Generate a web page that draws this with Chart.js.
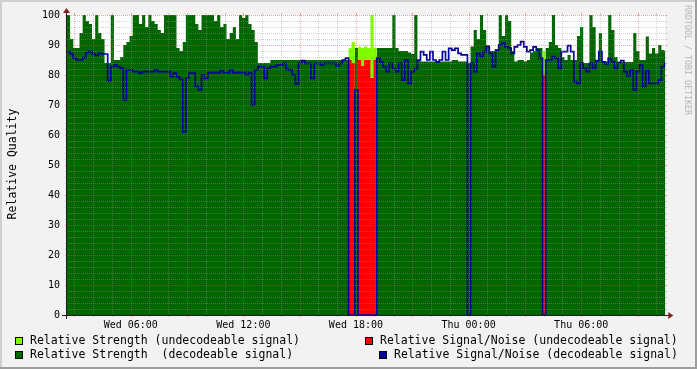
<!DOCTYPE html>
<html><head><meta charset="utf-8">
<script src="https://cdn.jsdelivr.net/npm/chart.js@4.4.0/dist/chart.umd.min.js"></script>
<style>
html,body{margin:0;padding:0;background:#f2f2f2;}
#wrap{position:relative;width:697px;height:369px;overflow:hidden;}
canvas{position:absolute;left:0;top:0;}
.t{position:absolute;font-family:"DejaVu Sans Mono",monospace;white-space:pre;color:#000;}
.lg{font-size:11.5px;line-height:14px;}
.box{position:absolute;width:6px;height:6px;border:1px solid #000;}
</style></head>
<body>
<div id="wrap">
<canvas id="c" width="697" height="369"></canvas>
<div class="t" style="font-size:11.5px;left:12px;top:164px;transform:translate(-50%,-50%) rotate(-90deg);">Relative Quality</div>
<div class="t" style="font-size:8.3px;color:#b4b4b4;left:688px;top:60px;transform:translate(-50%,-50%) rotate(90deg);">RRDTOOL / TOBI OETIKER</div>
<div class="box" style="left:15px;top:337px;background:#80ff00;"></div>
<div class="t lg" style="left:30px;top:333.3px;">Relative Strength (undecodeable signal)</div>
<div class="box" style="left:15px;top:351px;background:#006600;"></div>
<div class="t lg" style="left:30px;top:346.7px;">Relative Strength  (decodeable signal)</div>
<div class="box" style="left:365px;top:337px;background:#ff0000;"></div>
<div class="t lg" style="left:380px;top:333.3px;">Relative Signal/Noise (undecodeable signal)</div>
<div class="box" style="left:379px;top:351px;background:#000099;"></div>
<div class="t lg" style="left:394px;top:346.7px;">Relative Signal/Noise (decodeable signal)</div>
</div>
<script>
// time axis: hours since Wed 00:00, one sample every 10 minutes
const startHour = 2.605;
const stepHours = 1 / 6;
const endHour = 34.48;
const tickHours = [6, 12, 18, 24, 30];
const tickLabels = ['Wed 06:00', 'Wed 12:00', 'Wed 18:00', 'Thu 00:00', 'Thu 06:00'];
const yTicks = [0, 10, 20, 30, 40, 50, 60, 70, 80, 90, 100];

const strengthDecodeable = [
 100,92,89,89,94,100,98,97,92,100, 94,92,84,84,100,85,85,86,90,91,
 93,100,100,97,100,96,100,98,97,95, 94,100,100,100,100,89,88,91,100,100,
 100,97,95,100,100,100,100,98,100,96, 97,92,94,96,92,100,99,100,97,95,
 91,84,84,84,84,85,85,85,85,85, 85,85,85,85,85,85,85,85,85,85,
 85,85,85,85,85,85,85,85,85,85, 0,0,89,0,0,0,0,0,0,89,
 89,89,89,89,100,89,88,88,88,87.5, 87,100,85,84.5,84.5,84.5,84.5,84.5,84.5,84.5,
 84.5,84.5,84.5,85,85,84.5,84.5,84.5,84,89.5, 95,92,100,95,90,88,88,88.5,100,93,
 100,98,88,84.5,85,85,84.5,85,87.5,88, 89,89,0,89,91,100,90,89,86,85,
 86.7,85,85,93,96,84,84,100,96,85, 94,84.5,84.5,100,95,86,84.5,84.3,84.3,84.3,
 84.3,94,88,85,85,92.8,87.2,89,87.2,90, 88.3,87.8
];
const snrDecodeable = [
 87.8,87,85.6,85,85,85.8,87.5,87.8,87,86.5, 87.2,87,87,78,82.8,83.3,82.8,82.2,71.7,81.7,
 81.7,81.1,81.1,80.6,81.1,81.1,81.1,81.1,81.7,81.1, 81.1,81.1,81.1,79.5,80.6,79.4,78.5,61,79,80.6,
 80.6,76.2,75,80,78.9,80.8,80.8,80.8,80.8,81.5, 80.8,80.8,81.7,80.8,80.8,80.8,80.8,80,80.8,70,
 81.7,82.8,82.8,78.9,82.2,82.8,82.8,83.3,83.3,83.9, 81.9,81.7,80,77,83.9,84.8,83.9,83.9,78.9,83.9,
 83.9,83.3,83.9,83.9,83.9,83.9,83,83.9,85,85.6, 0,0,75,0,0,0,0,0,0,85.6,
 84.4,82.8,81.1,83.9,82.2,81.1,83.9,78.3,85,77.2, 81.1,82,85,87.8,86.7,85,87.8,85,84.4,85,
 87.8,85,88.9,88.3,88.9,87.2,86.7,86.7,0,83.9, 81.1,87.2,86.1,87.8,89.4,87.2,82.8,88.3,90,90.6,
 89.4,89,87.2,89.4,90,91.1,89.4,87.8,88.3,89.4, 88.3,85.6,0,85,85,86.1,85.6,82.2,87.8,87.8,
 89.8,87.8,77.8,77.2,84,82.2,81.1,83.9,82.2,84.8, 87.8,84.4,83.7,85.6,84.4,82.2,84,84.8,81.1,79.7,
 81.7,75,81.1,83.3,76.1,81.5,77.2,77.2,77.2,78.3, 82.8,83.9
];
const strengthUndecodeable = [
 0,0,0,0,0,0,0,0,0,0, 0,0,0,0,0,0,0,0,0,0,
 0,0,0,0,0,0,0,0,0,0, 0,0,0,0,0,0,0,0,0,0,
 0,0,0,0,0,0,0,0,0,0, 0,0,0,0,0,0,0,0,0,0,
 0,0,0,0,0,0,0,0,0,0, 0,0,0,0,0,0,0,0,0,0,
 0,0,0,0,0,0,0,0,0,0, 89,91,0,89.4,89,89.5,89,100,89,0,
 0,0,0,0,0,0,0,0,0,0, 0,0,0,0,0,0,0,0,0,0,
 0,0,0,0,0,0,0,0,0,0, 0,0,0,0,0,0,0,0,0,0,
 0,0,0,0,0,0,0,0,0,0, 0,0,88,0,0,0,0,0,0,0,
 0,0,0,0,0,0,0,0,0,0, 0,0,0,0,0,0,0,0,0,0,
 0,0,0,0,0,0,0,0,0,0, 0,0
];
const snrUndecodeable = [
 0,0,0,0,0,0,0,0,0,0, 0,0,0,0,0,0,0,0,0,0,
 0,0,0,0,0,0,0,0,0,0, 0,0,0,0,0,0,0,0,0,0,
 0,0,0,0,0,0,0,0,0,0, 0,0,0,0,0,0,0,0,0,0,
 0,0,0,0,0,0,0,0,0,0, 0,0,0,0,0,0,0,0,0,0,
 0,0,0,0,0,0,0,0,0,0, 85,84,0,85,83,85,85,79,85,0,
 0,0,0,0,0,0,0,0,0,0, 0,0,0,0,0,0,0,0,0,0,
 0,0,0,0,0,0,0,0,0,0, 0,0,0,0,0,0,0,0,0,0,
 0,0,0,0,0,0,0,0,0,0, 0,0,80,0,0,0,0,0,0,0,
 0,0,0,0,0,0,0,0,0,0, 0,0,0,0,0,0,0,0,0,0,
 0,0,0,0,0,0,0,0,0,0, 0,0
];

const toPoints = arr => arr.map((v, i) => ({x: startHour + i * stepHours, y: v}))
  .concat([{x: startHour + arr.length * stepHours, y: arr[arr.length - 1]}]);

const GRID = 'rgba(150,150,150,0.42)';
const MGRID = 'rgba(222,79,79,0.5)';

const rrdPlugin = {
  id: 'rrd',
  beforeDraw(chart) {
    const {ctx, chartArea: a, width: W, height: H} = chart;
    ctx.save();
    ctx.fillStyle = '#f2f2f2'; ctx.fillRect(0, 0, W, H);
    ctx.fillStyle = '#cfcfcf'; ctx.fillRect(0, 0, W, 2); ctx.fillRect(0, 0, 2, H);
    ctx.fillStyle = '#9e9e9e'; ctx.fillRect(0, H - 2, W, 2); ctx.fillRect(W - 2, 0, 2, H);
    ctx.fillStyle = '#ffffff'; ctx.fillRect(a.left, a.top, a.right - a.left, a.bottom - a.top);
    ctx.restore();
  },
  afterDatasetsDraw(chart) {
    const {ctx, chartArea: a} = chart;
    const xs = chart.scales.x, ys = chart.scales.y;
    ctx.save();
    ctx.lineWidth = 1;
    // vertical grid every hour, major every 3 hours
    for (let h = Math.ceil(xs.min); h <= xs.max; h++) {
      const px = Math.round(xs.getPixelForValue(h)) + 0.5;
      const col = h % 3 === 0 ? MGRID : GRID;
      ctx.strokeStyle = col;
      ctx.setLineDash([1, 1]);
      ctx.beginPath(); ctx.moveTo(px, a.top); ctx.lineTo(px, a.bottom); ctx.stroke();
      ctx.setLineDash([]);
      ctx.beginPath(); ctx.moveTo(px, a.bottom); ctx.lineTo(px, a.bottom + 2);
      ctx.moveTo(px, a.top - 2); ctx.lineTo(px, a.top); ctx.stroke();
    }
    // horizontal grid every 2, major every 10
    for (let v = 2; v <= 100; v += 2) {
      const py = Math.round(ys.getPixelForValue(v)) + 0.5;
      const col = v % 10 === 0 ? MGRID : GRID;
      ctx.strokeStyle = col;
      ctx.setLineDash([1, 1]);
      ctx.beginPath(); ctx.moveTo(a.left, py); ctx.lineTo(a.right, py); ctx.stroke();
      ctx.setLineDash([]);
      ctx.beginPath(); ctx.moveTo(a.left - 2, py); ctx.lineTo(a.left, py);
      ctx.moveTo(a.right, py); ctx.lineTo(a.right + 2, py); ctx.stroke();
    }
    // axes
    ctx.fillStyle = '#1f1f1f';
    const y0 = Math.round(a.bottom);
    const x0 = Math.round(a.left) - 1;
    ctx.fillRect(x0 - 4, y0, (a.right + 4) - (x0 - 4), 1);
    ctx.fillRect(x0, a.top - 4, 1, y0 + 4 - (a.top - 4));
    // arrows
    ctx.fillStyle = '#801f1f';
    ctx.beginPath();
    ctx.moveTo(a.right + 3, y0 - 3); ctx.lineTo(a.right + 3, y0 + 4); ctx.lineTo(a.right + 8, y0 + 0.5);
    ctx.closePath(); ctx.fill();
    ctx.beginPath();
    ctx.moveTo(x0 - 3, a.top - 2); ctx.lineTo(x0 + 4, a.top - 2); ctx.lineTo(x0 + 0.5, a.top - 7);
    ctx.closePath(); ctx.fill();
    ctx.restore();
  }
};

const areaDs = (label, arr, color) => ({
  label, data: toPoints(arr), backgroundColor: color, borderColor: 'rgba(0,0,0,0)',
  borderWidth: 0, fill: 'origin', stepped: 'before', pointRadius: 0, tension: 0
});

new Chart(document.getElementById('c'), {
  type: 'line',
  data: {
    datasets: [
      {label: 'Relative Signal/Noise (decodeable signal)', data: toPoints(snrDecodeable),
       borderColor: '#000099', borderWidth: 1.7, fill: false, stepped: 'before', pointRadius: 0,
       borderCapStyle: 'butt', borderJoinStyle: 'miter'},
      areaDs('Relative Signal/Noise (undecodeable signal)', snrUndecodeable, '#ff0000'),
      areaDs('Relative Strength (undecodeable signal)', strengthUndecodeable, '#80ff00'),
      areaDs('Relative Strength  (decodeable signal)', strengthDecodeable, '#006600')
    ]
  },
  options: {
    responsive: false, animation: false, devicePixelRatio: 1,
    layout: {padding: {left: 0, right: 31.7, top: 15, bottom: 0}},
    plugins: {legend: {display: false}, tooltip: {enabled: false}},
    scales: {
      x: {
        type: 'linear', min: startHour, max: endHour,
        grid: {display: false, drawTicks: false}, border: {display: false},
        afterBuildTicks: s => { s.ticks = tickHours.map(v => ({value: v})); },
        afterFit: s => { s.height = 54; },
        ticks: {autoSkip: false, maxRotation: 0, padding: 4, color: '#000',
          font: {family: 'DejaVu Sans Mono', size: 10},
          callback: v => { const k = tickHours.indexOf(v); return k >= 0 ? tickLabels[k] : ''; }}
      },
      y: {
        min: 0, max: 100,
        grid: {display: false, drawTicks: false}, border: {display: false},
        afterBuildTicks: s => { s.ticks = yTicks.map(v => ({value: v})); },
        afterFit: s => { s.width = 67; },
        ticks: {padding: 7, color: '#000', font: {family: 'DejaVu Sans Mono', size: 10}}
      }
    }
  },
  plugins: [rrdPlugin]
});
</script>
</body></html>
